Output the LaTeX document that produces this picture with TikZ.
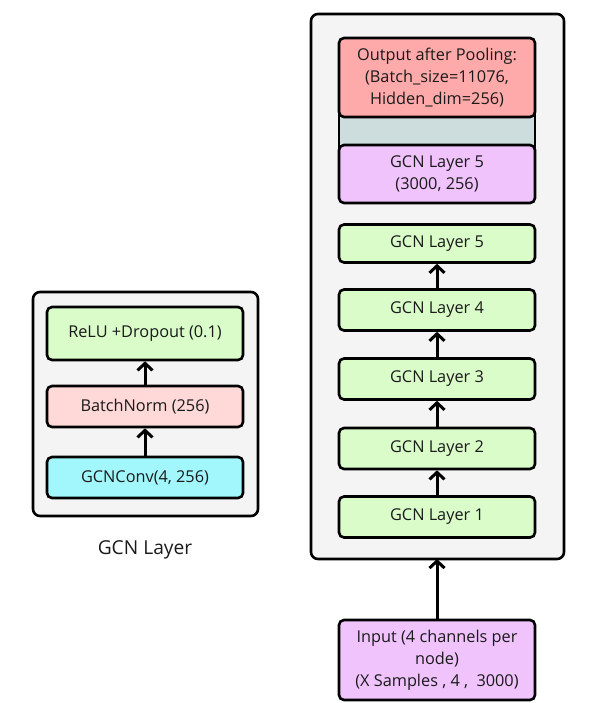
\documentclass[tikz,border=0pt]{standalone}
\usepackage{fontspec}
\setmainfont{Open Sans}
\usetikzlibrary{arrows.meta}
\definecolor{greenbox}{HTML}{D9FCC9}
\definecolor{pinkbox}{HTML}{FFD8D8}
\definecolor{cyanbox}{HTML}{A2F7FD}
\definecolor{redbox}{HTML}{FFAAAA}
\definecolor{purplebox}{HTML}{F0C3FD}
\definecolor{tealbox}{HTML}{CDDDDD}
\definecolor{panel}{HTML}{F4F4F4}
\definecolor{ink}{HTML}{1A1A1A}
\tikzset{
  panelbox/.style={draw=black, line width=2.6pt, rounded corners=7pt, fill=panel},
  blk/.style={draw=black, line width=2.6pt, rounded corners=5pt, minimum width=196pt,
    align=center, inner sep=0pt, text=ink, font=\fontsize{16.3}{22}\selectfont},
  flow/.style={-{Straight Barb[length=7pt,width=15pt,line width=3pt]}, line width=3pt, black},
}
\begin{document}
\begin{tikzpicture}[x=1pt,y=-1pt]
\useasboundingbox (0,0) rectangle (597,703);
% panels
\draw[panelbox] (33,292) rectangle (258,516);
\draw[panelbox] (311,14) rectangle (564,559);
% left GCN layer detail
\node[blk, fill=greenbox, minimum height=53pt] (relu) at (145,333.5) {ReLU +Dropout (0.1)};
\node[blk, fill=pinkbox, minimum height=41pt] (bn) at (145,406.5) {BatchNorm (256)};
\node[blk, fill=cyanbox, minimum height=41pt] (conv) at (145,477.5) {GCNConv(4, 256)};
\node[text=ink, font=\fontsize{19.2}{22}\selectfont] (cap) at (145,550) {GCN Layer};
\draw[flow] (conv) -- (bn);
\draw[flow] (bn) -- (relu);
% right stack
\node[draw=black, line width=2.6pt, fill=tealbox, minimum width=196pt, minimum height=44pt, inner sep=0pt] (gap) at (437,131) {};
\node[blk, fill=redbox, minimum height=79pt] (pool) at (437,77.5) {Output after Pooling:\\(Batch\_size=11076,\\Hidden\_dim=256)};
\node[blk, fill=purplebox, minimum height=58pt] (p5) at (437,174) {GCN Layer 5\\(3000, 256)};
\node[blk, fill=greenbox, minimum height=38pt] (l5) at (437,243.5) {GCN Layer 5};
\node[blk, fill=greenbox, minimum height=41pt] (l4) at (437,310) {GCN Layer 4};
\node[blk, fill=greenbox, minimum height=41pt] (l3) at (437,379) {GCN Layer 3};
\node[blk, fill=greenbox, minimum height=41pt] (l2) at (437,448.5) {GCN Layer 2};
\node[blk, fill=greenbox, minimum height=41pt] (l1) at (437,517) {GCN Layer 1};
\draw[flow] (l1) -- (l2);
\draw[flow] (l2) -- (l3);
\draw[flow] (l3) -- (l4);
\draw[flow] (l4) -- (l5);
% input
\node[blk, fill=purplebox, minimum height=80pt] (in) at (437,660) {Input (4 channels per\\node)\\(X Samples , 4 ,\ \ 3000)};
\coordinate (panelbottom) at (437,559);
\draw[flow] (in) -- (panelbottom);
\end{tikzpicture}
\end{document}
